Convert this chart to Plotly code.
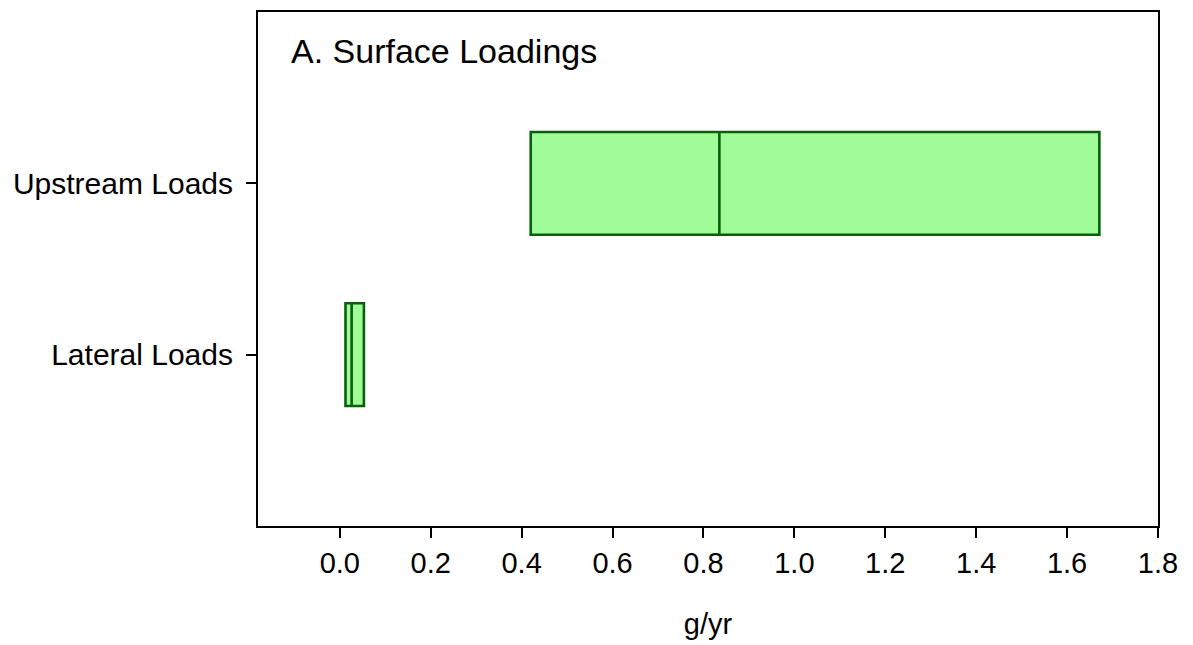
import plotly.graph_objects as go

# Load summaries (g/yr): first quartile, median, third quartile
categories = ["Lateral Loads", "Upstream Loads"]
q1_vals = [0.0125, 0.42]
median_vals = [0.026, 0.835]
q3_vals = [0.053, 1.671]

x_ticks = [0.0, 0.2, 0.4, 0.6, 0.8, 1.0, 1.2, 1.4, 1.6, 1.8]
x_tick_text = ["0.0", "0.2", "0.4", "0.6", "0.8", "1.0", "1.2", "1.4", "1.6", "1.8"]

FILL = "#a0fc98"
EDGE = "#08600a"
FONT = "Liberation Sans, Arial, sans-serif"

fig = go.Figure()
fig.add_trace(go.Box(
    y=categories,
    q1=q1_vals,
    median=median_vals,
    q3=q3_vals,
    lowerfence=q1_vals,
    upperfence=q3_vals,
    orientation="h",
    width=0.6,
    fillcolor=FILL,
    line=dict(color=EDGE, width=2.6),
    whiskerwidth=0,
    boxpoints=False,
    hoverinfo="skip",
    showlegend=False,
))

fig.update_layout(
    width=1193,
    height=645,
    margin=dict(l=258, r=35, t=10, b=117),
    plot_bgcolor="white",
    paper_bgcolor="white",
    font=dict(family=FONT, size=29, color="black"),
    xaxis=dict(
        range=[-0.18, 1.8],
        tickvals=x_ticks,
        ticktext=x_tick_text,
        ticks="outside",
        ticklen=10,
        tickwidth=2,
        tickcolor="black",
        showline=True,
        linecolor="black",
        linewidth=2,
        mirror=True,
        showgrid=False,
        zeroline=False,
        tickfont=dict(size=29),
        title=dict(text="g/yr", font=dict(size=29), standoff=36),
    ),
    yaxis=dict(
        type="category",
        categoryorder="array",
        categoryarray=categories,
        range=[-1, 2],
        ticks="outside",
        ticklen=10,
        tickwidth=2,
        tickcolor="black",
        showline=True,
        linecolor="black",
        linewidth=2,
        mirror=True,
        showgrid=False,
        zeroline=False,
        tickfont=dict(size=30),
        ticklabelstandoff=7,
    ),
    annotations=[dict(
        text="A. Surface Loadings",
        xref="paper", yref="paper",
        x=0.034, y=0.925,
        xanchor="left", yanchor="middle",
        showarrow=False,
        font=dict(family=FONT, size=34, color="black"),
    )],
)

fig.write_html("out.html")
